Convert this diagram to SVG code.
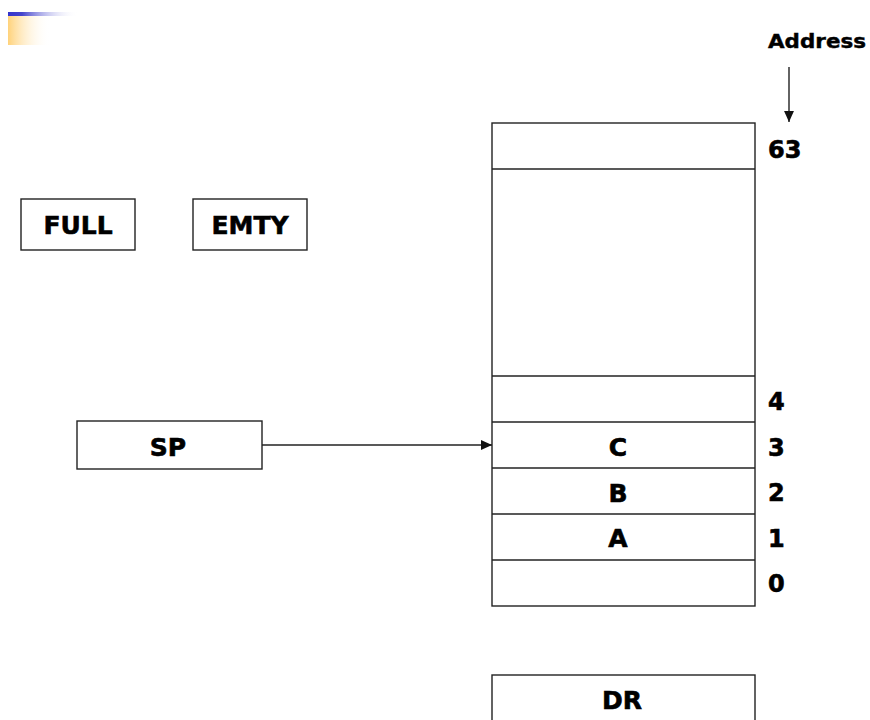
<svg xmlns="http://www.w3.org/2000/svg" width="870" height="720" viewBox="0 0 870 720">
<style>
.box{fill:#fff;stroke:#222;stroke-width:1.4}
.ln{stroke:#222;stroke-width:1.4;fill:none}
.t{font-family:"DejaVu Sans",Verdana,sans-serif;font-weight:bold;font-size:25px;fill:#000;stroke:#000;stroke-width:0.6;text-anchor:middle}
.n{font-family:"DejaVu Sans",Verdana,sans-serif;font-weight:bold;font-size:24px;fill:#000;stroke:#000;stroke-width:0.6}
</style>
<defs>
<linearGradient id="gb" x1="0" x2="1" y1="0" y2="0">
<stop offset="0" stop-color="#3333cc"/><stop offset="0.2" stop-color="#4444cc"/><stop offset="1" stop-color="#ffffff" stop-opacity="0"/>
</linearGradient>
<linearGradient id="go" x1="0" x2="1" y1="0" y2="0">
<stop offset="0" stop-color="#ffd27a"/><stop offset="1" stop-color="#ffffff" stop-opacity="0"/>
</linearGradient>
<marker id="ah" viewBox="0 0 10 10" refX="10" refY="5" markerWidth="12" markerHeight="11" markerUnits="userSpaceOnUse" orient="auto">
<path d="M0,0.5 L10,5 L0,9.5 Z" fill="#111"/>
</marker>
</defs>
<rect width="870" height="720" fill="#fff"/>
<rect x="8" y="12" width="70" height="4" fill="url(#gb)"/>
<rect x="8" y="16" width="42" height="29" fill="url(#go)"/>

<g id="full"><rect class="box" x="21" y="199" width="114" height="51"/><text class="t" x="78" y="234">FULL</text></g>
<g id="emty"><rect class="box" x="193" y="199" width="114" height="51"/><text class="t" x="250" y="234">EMTY</text></g>
<g id="sp"><rect class="box" x="77" y="421" width="185" height="48"/><text class="t" x="168" y="456">SP</text></g>

<g id="memory">
<rect class="box" x="492" y="123" width="263" height="483"/>
<line class="ln" x1="492" y1="169" x2="755" y2="169"/>
<line class="ln" x1="492" y1="376" x2="755" y2="376"/>
<line class="ln" x1="492" y1="422" x2="755" y2="422"/>
<line class="ln" x1="492" y1="468" x2="755" y2="468"/>
<line class="ln" x1="492" y1="514" x2="755" y2="514"/>
<line class="ln" x1="492" y1="560" x2="755" y2="560"/>
<text class="t" x="618" y="456">C</text>
<text class="t" x="618" y="502">B</text>
<text class="t" x="618" y="547">A</text>
</g>
<g id="addresses">
<text class="n" x="768" y="158">63</text>
<text class="n" x="768" y="410">4</text>
<text class="n" x="768" y="456">3</text>
<text class="n" x="768" y="501">2</text>
<text class="n" x="768" y="547">1</text>
<text class="n" x="768" y="592">0</text>
<text class="n" x="768" y="48" style="font-size:19px;stroke-width:0.4" textLength="98" lengthAdjust="spacingAndGlyphs">Address</text>
</g>
<g id="dr"><rect class="box" x="492" y="675" width="263" height="60"/><text class="t" x="622" y="709">DR</text></g>

<g id="connectors">
<line class="ln" x1="789" y1="67" x2="789" y2="122" marker-end="url(#ah)"/>
<line class="ln" x1="262" y1="445" x2="492" y2="445" marker-end="url(#ah)"/>
</g>
</svg>
